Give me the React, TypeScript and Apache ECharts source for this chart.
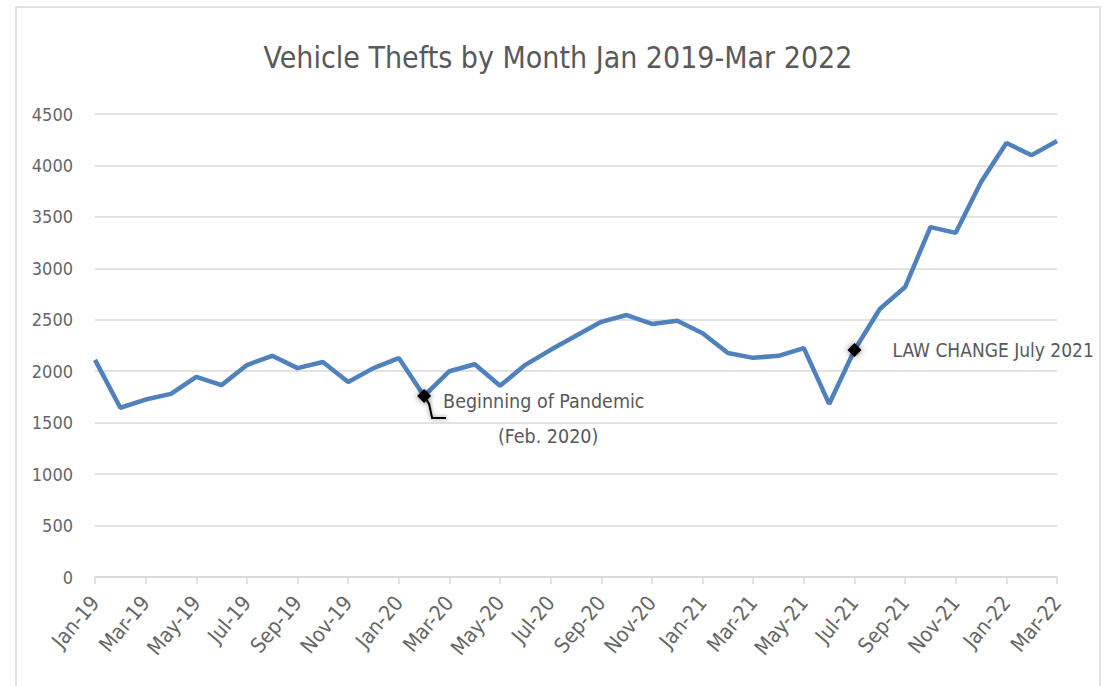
import React, { useEffect, useRef } from "react";
import * as echarts from "echarts";

const months = [
  "Jan-19", "Feb-19", "Mar-19", "Apr-19", "May-19", "Jun-19", "Jul-19", "Aug-19", "Sep-19", "Oct-19", "Nov-19", "Dec-19",
  "Jan-20", "Feb-20", "Mar-20", "Apr-20", "May-20", "Jun-20", "Jul-20", "Aug-20", "Sep-20", "Oct-20", "Nov-20", "Dec-20",
  "Jan-21", "Feb-21", "Mar-21", "Apr-21", "May-21", "Jun-21", "Jul-21", "Aug-21", "Sep-21", "Oct-21", "Nov-21", "Dec-21",
  "Jan-22", "Feb-22", "Mar-22",
];

const thefts = [
  2110, 1645, 1725, 1780, 1945, 1865, 2060, 2150, 2030, 2090, 1895, 2030,
  2128, 1760, 2000, 2068, 1858, 2062, 2208, 2345, 2480, 2546, 2460, 2490,
  2370, 2177, 2130, 2150, 2225, 1682, 2206, 2605, 2818, 3400, 3345, 3840,
  4218, 4100, 4238,
];

const titleText = "Vehicle Thefts by Month Jan 2019-Mar 2022";
const pandemicIndex = 13;
const pandemicLabel = "Beginning of Pandemic";
const pandemicSub = "(Feb. 2020)";
const lawIndex = 30;
const lawLabel = "LAW CHANGE July 2021";

const FONT = "'Liberation Sans Narrow', 'DejaVu Sans Condensed', 'Open Sans', sans-serif";
const GRAY = "#595959";
const GRID = "#d9d9d9";

export default function App() {
  const ref = useRef<HTMLDivElement>(null);
  useEffect(() => {
    if (!ref.current) return;
    const chart = echarts.init(ref.current, undefined, { renderer: "svg" });
    chart.setOption({
      animation: false,
      backgroundColor: "#ffffff",
      textStyle: { fontFamily: FONT },
      title: {
        text: titleText,
        left: "center",
        top: 37,
        textStyle: { fontFamily: FONT, fontSize: 30, fontWeight: "normal", color: GRAY },
      },
      grid: { left: 95, right: 59, top: 114, bottom: 109, containLabel: false },
      xAxis: {
        type: "category",
        data: months,
        boundaryGap: false,
        axisLine: { lineStyle: { color: GRID, width: 1.5 } },
        axisTick: { show: true, interval: 1, length: 7, lineStyle: { color: GRID, width: 1.5 } },
        axisLabel: { interval: 1, rotate: 50, fontSize: 21, color: "#666666", margin: 22, fontFamily: FONT },
        splitLine: { show: false },
      },
      yAxis: {
        type: "value",
        min: 0,
        max: 4500,
        interval: 500,
        axisLine: { show: false },
        axisTick: { show: false },
        axisLabel: {
          fontSize: 18,
          color: "#666666",
          margin: 22,
          fontFamily: FONT,
          formatter: (v: number) => String(v),
        },
        splitLine: { lineStyle: { color: GRID, width: 1.5 } },
      },
      series: [
        {
          type: "line",
          data: thefts,
          showSymbol: false,
          lineStyle: { color: "#4f81bd", width: 4.5 },
          markPoint: {
            symbol: "diamond",
            symbolSize: 14,
            label: { show: false },
            itemStyle: { color: "#000", shadowBlur: 6, shadowColor: "rgba(0,0,0,0.55)" },
            data: [
              { coord: [pandemicIndex, thefts[pandemicIndex]] },
              { coord: [lawIndex, thefts[lawIndex]] },
            ],
          },
        },
      ],
    });

    const p1 = chart.convertToPixel({ gridIndex: 0 }, [pandemicIndex, thefts[pandemicIndex]]) as number[];
    const p2 = chart.convertToPixel({ gridIndex: 0 }, [lawIndex, thefts[lawIndex]]) as number[];
    const lineStyle = { stroke: "#000", lineWidth: 2, fill: null, shadowBlur: 4, shadowColor: "rgba(0,0,0,0.5)" };
    chart.setOption({
      graphic: [
        {
          type: "rect",
          silent: true,
          z: -10,
          shape: { x: 16, y: 7, width: 1084, height: 700 },
          style: { fill: "none", stroke: GRID, lineWidth: 1.5 },
        },
        {
          type: "polyline",
          silent: true,
          z: 5,
          shape: {
            points: [
              [p1[0], p1[1]],
              [p1[0] + 5, p1[1] + 8],
              [p1[0] + 8, p1[1] + 22],
              [p1[0] + 22, p1[1] + 22],
            ],
          },
          style: lineStyle,
        },
        {
          type: "text",
          silent: true,
          z: 5,
          x: p1[0] + 19,
          y: p1[1] + 6,
          style: { text: pandemicLabel, font: `19.5px ${FONT}`, fill: GRAY, verticalAlign: "middle", align: "left" },
        },
        {
          type: "text",
          silent: true,
          z: 5,
          x: p1[0] + 124,
          y: p1[1] + 41,
          style: { text: pandemicSub, font: `19.5px ${FONT}`, fill: GRAY, verticalAlign: "middle", align: "center" },
        },
        {
          type: "line",
          silent: true,
          z: 5,
          shape: { x1: p2[0], y1: p2[1], x2: p2[0] + 32, y2: p2[1] },
          style: lineStyle,
        },
        {
          type: "text",
          silent: true,
          z: 5,
          x: p2[0] + 38,
          y: p2[1],
          style: { text: lawLabel, font: `19px ${FONT}`, fill: GRAY, verticalAlign: "middle", align: "left" },
        },
      ],
    });
    return () => chart.dispose();
  }, []);
  return (
    <div
      ref={ref}
      style={{ position: "fixed", left: 0, top: 0, width: 1116, height: 686, background: "#fff" }}
    />
  );
}
